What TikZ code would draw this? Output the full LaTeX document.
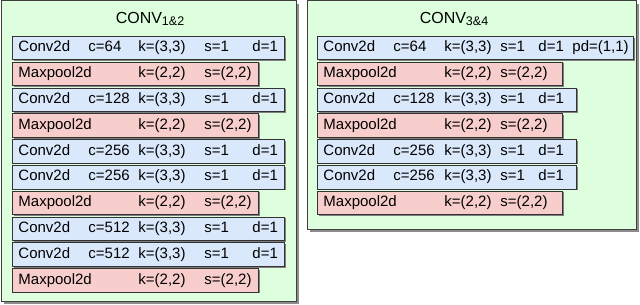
\documentclass[tikz,border=0pt]{standalone}
\usepackage{fontspec}
\setmainfont{Liberation Sans}
\usetikzlibrary{shadows}

\definecolor{panelgreen}{RGB}{221,255,221}
\definecolor{convblue}{RGB}{218,232,252}
\definecolor{poolred}{RGB}{248,206,204}

% one column of a layer row
\newcommand{\cell}[2]{\makebox[#1pt][l]{#2}}
\newcommand{\grp}[1]{{\fontsize{16}{18}\selectfont CONV}\raisebox{-1.5pt}{\fontsize{12.5}{14}\selectfont #1}}

\begin{document}
\begin{tikzpicture}[x=1pt,y=-1pt,
  every node/.style={font=\fontsize{15}{18}\selectfont},
  panel/.style={draw=black!75, line width=0.9pt, fill=panelgreen, anchor=north west,
    drop shadow={shadow xshift=3pt, shadow yshift=-3pt, fill=black!45, opacity=1}},
  layer/.style={draw=black!80, line width=0.9pt, anchor=north west, inner xsep=6pt,
    inner ysep=0pt, minimum height=23.5pt, align=left,
    drop shadow={shadow xshift=1.2pt, shadow yshift=-1.2pt, fill=black!50, opacity=1}},
  conv/.style={layer, fill=convblue},
  pool/.style={layer, fill=poolred}]
\useasboundingbox (0,0) rectangle (640,305);

% left group
\node[panel, minimum width=295pt, minimum height=300pt] (conv12) at (1,0.5) {};
\node (t12) at (150,19) {\grp{1\&2}};
\node[conv, text width=260pt] (l1) at (12,36) {\strut\cell{70}{Conv2d}\cell{50}{c=64}\cell{66}{k=(3,3)}\cell{48}{s=1}d=1};
\node[pool, text width=234pt] (l2) at (12,61.8) {\strut\cell{120}{Maxpool2d}\cell{66}{k=(2,2)}s=(2,2)};
\node[conv, text width=260pt] (l3) at (12,87.6) {\strut\cell{70}{Conv2d}\cell{50}{c=128}\cell{66}{k=(3,3)}\cell{48}{s=1}d=1};
\node[pool, text width=234pt] (l4) at (12,113.4) {\strut\cell{120}{Maxpool2d}\cell{66}{k=(2,2)}s=(2,2)};
\node[conv, text width=260pt] (l5) at (12,139.2) {\strut\cell{70}{Conv2d}\cell{50}{c=256}\cell{66}{k=(3,3)}\cell{48}{s=1}d=1};
\node[conv, text width=260pt] (l6) at (12,165) {\strut\cell{70}{Conv2d}\cell{50}{c=256}\cell{66}{k=(3,3)}\cell{48}{s=1}d=1};
\node[pool, text width=234pt] (l7) at (12,190.8) {\strut\cell{120}{Maxpool2d}\cell{66}{k=(2,2)}s=(2,2)};
\node[conv, text width=260pt] (l8) at (12,216.6) {\strut\cell{70}{Conv2d}\cell{50}{c=512}\cell{66}{k=(3,3)}\cell{48}{s=1}d=1};
\node[conv, text width=260pt] (l9) at (12,242.4) {\strut\cell{70}{Conv2d}\cell{50}{c=512}\cell{66}{k=(3,3)}\cell{48}{s=1}d=1};
\node[pool, text width=234pt] (l10) at (12,268.2) {\strut\cell{120}{Maxpool2d}\cell{66}{k=(2,2)}s=(2,2)};

% right group
\node[panel, minimum width=329pt, minimum height=228.5pt] (conv34) at (307,0.5) {};
\node (t34) at (454,19) {\grp{3\&4}};
\node[conv, text width=304pt] (r1) at (317,36) {\strut\cell{70}{Conv2d}\cell{51}{c=64}\cell{56}{k=(3,3)}\cell{38}{s=1}\cell{34}{d=1}pd=(1,1)};
\node[pool, text width=233pt] (r2) at (317,61.8) {\strut\cell{121}{Maxpool2d}\cell{56}{k=(2,2)}s=(2,2)};
\node[conv, text width=247pt] (r3) at (317,87.6) {\strut\cell{70}{Conv2d}\cell{51}{c=128}\cell{56}{k=(3,3)}\cell{38}{s=1}d=1};
\node[pool, text width=233pt] (r4) at (317,113.4) {\strut\cell{121}{Maxpool2d}\cell{56}{k=(2,2)}s=(2,2)};
\node[conv, text width=247pt] (r5) at (317,139.2) {\strut\cell{70}{Conv2d}\cell{51}{c=256}\cell{56}{k=(3,3)}\cell{38}{s=1}d=1};
\node[conv, text width=247pt] (r6) at (317,165) {\strut\cell{70}{Conv2d}\cell{51}{c=256}\cell{56}{k=(3,3)}\cell{38}{s=1}d=1};
\node[pool, text width=233pt] (r7) at (317,190.8) {\strut\cell{121}{Maxpool2d}\cell{56}{k=(2,2)}s=(2,2)};
\end{tikzpicture}
\end{document}
